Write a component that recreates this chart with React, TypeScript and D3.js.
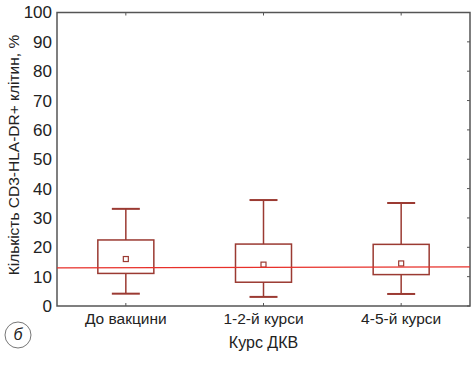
import * as d3 from "d3";
import { useRef, useEffect } from "react";

const categories = ["До вакцини", "1-2-й курси", "4-5-й курси"];
const whiskerLow = [4.2, 3.1, 4.1];
const boxLow = [11.1, 8.1, 10.7];
const means = [16.0, 14.1, 14.5];
const boxHigh = [22.5, 21.1, 21.0];
const whiskerHigh = [33.1, 36.1, 35.1];
const refLine = [13.0, 13.3];
const yTicks = [0, 10, 20, 30, 40, 50, 60, 70, 80, 90, 100];

const App = () => {
  const container = useRef<SVGSVGElement>(null);

  useEffect(() => {
    const width = 473;
    const height = 366;
    const margins = { l: 57, r: 3, t: 12.5, b: 60 };

    const boxColor = "#9b3a32";
    const frameColor = "#555";

    const svg = d3.select(container.current);
    svg.selectAll("*").remove();

    const xScale = d3
      .scaleBand()
      .domain(categories)
      .range([margins.l, width - margins.r]);
    const yScale = d3
      .scaleLinear()
      .domain([0, 100])
      .range([height - margins.b, margins.t]);

    const font = "'Liberation Sans', Arial, sans-serif";

    // frame
    svg
      .append("rect")
      .attr("x", margins.l)
      .attr("y", margins.t)
      .attr("width", width - margins.l - margins.r)
      .attr("height", height - margins.t - margins.b)
      .attr("fill", "none")
      .attr("stroke", frameColor)
      .attr("stroke-width", 1.5);

    // y axis labels + inward ticks
    const yaxisg = svg.append("g");
    yaxisg
      .selectAll("text")
      .data(yTicks)
      .join("text")
      .attr("x", margins.l - 5)
      .attr("y", (d) => yScale(d))
      .attr("dy", "0.35em")
      .attr("text-anchor", "end")
      .attr("font-family", font)
      .attr("font-size", 17)
      .attr("fill", "#222")
      .text((d) => d);
    yaxisg
      .selectAll(".tick-r")
      .data(yTicks)
      .join("line")
      .attr("class", "tick-r")
      .attr("x1", width - margins.r)
      .attr("x2", width - margins.r - 3)
      .attr("y1", (d) => yScale(d))
      .attr("y2", (d) => yScale(d))
      .attr("stroke", frameColor);

    // x ticks top and bottom
    const xg = svg.append("g");
    xg.selectAll(".tick-b")
      .data(categories)
      .join("line")
      .attr("class", "tick-b")
      .attr("x1", (d) => xScale(d)! + xScale.bandwidth() / 2)
      .attr("x2", (d) => xScale(d)! + xScale.bandwidth() / 2)
      .attr("y1", yScale(0))
      .attr("y2", yScale(0) - 3)
      .attr("stroke", frameColor);
    xg.selectAll(".tick-t")
      .data(categories)
      .join("line")
      .attr("class", "tick-t")
      .attr("x1", (d) => xScale(d)! + xScale.bandwidth() / 2)
      .attr("x2", (d) => xScale(d)! + xScale.bandwidth() / 2)
      .attr("y1", yScale(100))
      .attr("y2", yScale(100) + 3)
      .attr("stroke", frameColor);
    xg.selectAll(".x-label")
      .data(categories)
      .join("text")
      .attr("class", "x-label")
      .attr("x", (d) => xScale(d)! + xScale.bandwidth() / 2)
      .attr("y", 324)
      .attr("text-anchor", "middle")
      .attr("font-family", font)
      .attr("font-size", 15.5)
      .attr("fill", "#222")
      .text((d) => d);

    // titles
    svg
      .append("text")
      .attr("x", (margins.l + width - margins.r) / 2)
      .attr("y", 348)
      .attr("text-anchor", "middle")
      .attr("font-family", font)
      .attr("font-size", 16)
      .attr("fill", "#222")
      .text("Курс ДКВ");
    svg
      .append("text")
      .attr("transform", `translate(19,155)rotate(-90)`)
      .attr("text-anchor", "middle")
      .attr("font-family", font)
      .attr("font-size", 15.5)
      .attr("fill", "#222")
      .text("Кількість CD3-HLA-DR+ клітин, %");

    // boxes
    const boxW = 56;
    const capW = 28;
    const boxg = svg.append("g");
    categories.forEach((c, i) => {
      const cx = xScale(c)! + xScale.bandwidth() / 2;
      const g = boxg.append("g");
      g.append("line")
        .attr("x1", cx)
        .attr("x2", cx)
        .attr("y1", yScale(whiskerHigh[i]))
        .attr("y2", yScale(boxHigh[i]))
        .attr("stroke", boxColor)
        .attr("stroke-width", 1.5);
      g.append("line")
        .attr("x1", cx)
        .attr("x2", cx)
        .attr("y1", yScale(whiskerLow[i]))
        .attr("y2", yScale(boxLow[i]))
        .attr("stroke", boxColor)
        .attr("stroke-width", 1.5);
      [whiskerHigh[i], whiskerLow[i]].forEach((v) => {
        g.append("line")
          .attr("x1", cx - capW / 2)
          .attr("x2", cx + capW / 2)
          .attr("y1", yScale(v))
          .attr("y2", yScale(v))
          .attr("stroke", boxColor)
          .attr("stroke-width", 2);
      });
      g.append("rect")
        .attr("x", cx - boxW / 2)
        .attr("y", yScale(boxHigh[i]))
        .attr("width", boxW)
        .attr("height", yScale(boxLow[i]) - yScale(boxHigh[i]))
        .attr("fill", "none")
        .attr("stroke", boxColor)
        .attr("stroke-width", 1.5);
      g.append("rect")
        .attr("x", cx - 2.5)
        .attr("y", yScale(means[i]) - 2.5)
        .attr("width", 5)
        .attr("height", 5)
        .attr("fill", "none")
        .attr("stroke", boxColor)
        .attr("stroke-width", 1.2);
    });

    // reference line
    svg
      .append("line")
      .attr("x1", margins.l)
      .attr("x2", width - margins.r)
      .attr("y1", yScale(refLine[0]))
      .attr("y2", yScale(refLine[1]))
      .attr("stroke", "#e8302a")
      .attr("stroke-width", 1.3);

    // panel mark
    svg
      .append("circle")
      .attr("cx", 18)
      .attr("cy", 335)
      .attr("r", 13)
      .attr("fill", "none")
      .attr("stroke", "#777")
      .attr("stroke-width", 1);
    svg
      .append("text")
      .attr("x", 18)
      .attr("y", 340)
      .attr("text-anchor", "middle")
      .attr("font-family", font)
      .attr("font-style", "italic")
      .attr("font-size", 16)
      .attr("fill", "#222")
      .text("б");
  }, []);

  return (
    <svg
      ref={container}
      width={473}
      height={366}
      style={{ position: "absolute", left: 0, top: 0, background: "#fff" }}
    />
  );
};

export default App;
